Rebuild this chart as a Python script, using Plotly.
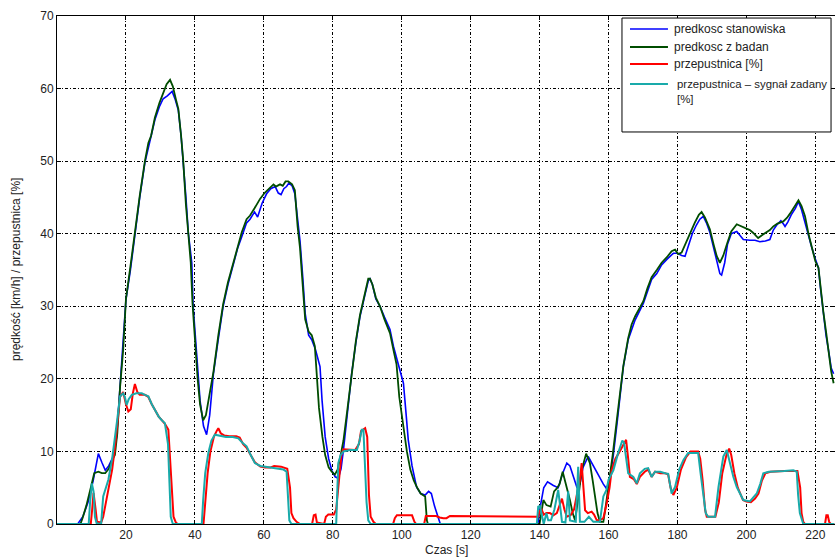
import plotly.graph_objects as go

# ---- data ----
t_stan = [0, 6, 7.5, 9, 10.5, 12, 13, 14, 15, 16.3, 17.3, 18.3, 19.2, 20, 21.3, 22.6, 24, 25.5, 27, 28.4, 29.7, 30.8, 32, 33.4, 34.3, 35.2, 36, 36.6, 37.4, 38.1, 39.1, 39.5, 40.5, 41.5, 42.5, 43.4, 44.3, 45.4, 46.8, 48.2, 49.6, 51.1, 52.4, 53.6, 55, 56, 57.3, 58.2, 59.5, 60.8, 62, 63.3, 64.2, 65, 65.8, 66.6, 67.3, 68.2, 69, 69.8, 70.5, 71.3, 72, 73, 73.9, 75, 76.3, 76.9, 77.8, 78.8, 79.7, 80.7, 81.6, 82.4, 83.1, 84.3, 85.5, 86.7, 87.9, 89.3, 90.3, 90.8, 91.5, 92.5, 93.7, 95, 96.6, 97.6, 99, 100.5, 101.3, 101.9, 103, 104.3, 105.5, 106.8, 107.8, 108.6, 109.5, 110.5, 111.2, 139.5, 140.2, 141.2, 142.3, 144, 145.4, 146.7, 147.9, 148.8, 149.8, 150.8, 151.7, 152.6, 154.1, 155.5, 157, 158.5, 159.4, 160.3, 161.4, 162.5, 163.3, 164.3, 165.7, 167.7, 170.1, 171.3, 172.5, 174, 175.4, 177, 178.8, 180, 181.2, 182.2, 183.2, 184.3, 185.5, 186.5, 187.5, 188.4, 189.4, 190.5, 191.4, 192.3, 192.8, 193.7, 194.5, 195.6, 197.2, 198.3, 199.1, 201, 202.5, 203.9, 205.5, 206.8, 207.8, 208.8, 210, 210.8, 211.2, 212, 213, 214.2, 215.1, 216, 217, 218, 218.9, 220, 220.9, 221.5, 222.3, 223.1, 223.8, 224.6, 225.3]
v_stan = [0, 0, 1, 3, 6, 9.7, 8.5, 7.4, 8, 9.3, 12, 18.9, 24, 30.9, 35, 40.1, 45, 49.8, 53, 55.7, 57.5, 58.6, 59, 59.6, 58.5, 57, 53.5, 50.2, 45, 40.1, 36, 30, 23.1, 17, 13.5, 12.3, 15, 20.8, 25.5, 30, 33, 35.5, 38, 39.6, 41.5, 42, 43, 42.3, 44.2, 45.5, 46.2, 46.5, 45.6, 45.4, 46.2, 46.5, 47, 46.6, 45.5, 42, 39, 34, 29, 26, 25.4, 24, 21.7, 17, 12, 9, 7.4, 6.5, 6.3, 7.6, 10.2, 15.5, 20.8, 25, 28.6, 31.5, 33.5, 33.8, 33, 31, 30, 28.5, 26.8, 24.5, 22.2, 19.4, 15, 11.6, 8, 5.1, 4.2, 4.0, 4.5, 4.2, 2.5, 1, 0, 0, 2.4, 5, 5.8, 5.3, 5, 7, 8.4, 8.0, 6.5, 5.1, 5.5, 7.8, 9.3, 8.0, 6.8, 5.5, 4.9, 6, 9.5, 14, 17.6, 21.7, 25.4, 28.1, 30.4, 32, 33.7, 34.5, 35.7, 36.5, 37.3, 37.3, 37, 36.9, 38.5, 40, 41.2, 42, 42.4, 41.5, 40.2, 38, 36, 34.5, 34.3, 36, 38.5, 40, 40.3, 39.6, 39.2, 39.1, 39.1, 38.9, 39, 39.2, 40.5, 41.2, 41.8, 41.3, 41, 41.6, 42.6, 43.5, 44.4, 43.3, 41.5, 39.5, 38.2, 36.5, 35.3, 32.5, 29.1, 26, 24, 21.5, 20.7]

t_bad = [0, 6.8, 7.4, 8.5, 9.8, 10.8, 12, 13, 14, 15, 16, 16.8, 17.5, 18.3, 19.2, 20, 21.3, 22.6, 24, 25.5, 26.5, 27.3, 28.4, 29.7, 30.8, 31.8, 32.8, 33.6, 34.5, 35.2, 36, 36.6, 37.4, 38.1, 38.8, 39.3, 40, 40.8, 41.5, 42.4, 43.2, 44.2, 45.4, 46.8, 48.2, 49.6, 51.1, 52.4, 53.6, 55, 56, 57.3, 58.9, 60.2, 61.8, 62.8, 63.5, 64.7, 65.5, 66.3, 67.1, 68.2, 69, 69.8, 70.5, 71.3, 72, 73, 73.9, 74.8, 75.3, 76, 77, 77.8, 78.8, 79.7, 80.6, 81.4, 82.3, 83.1, 84.3, 85.5, 86.7, 87.9, 89.3, 90.3, 90.8, 91.5, 92.5, 93.7, 95, 96.6, 97.6, 98.5, 99.3, 100.5, 101.5, 102.5, 103.5, 104.5, 105.5, 106.8, 107.3, 107.6, 140, 141.1, 142, 143.2, 144.2, 145, 145.8, 146.7, 147.7, 148.8, 149.6, 150.3, 151.2, 152.2, 153.5, 154.6, 155.4, 156.1, 156.8, 157.5, 158.5, 159.2, 160, 161.2, 162.4, 163.3, 164.3, 165.7, 166.7, 167.7, 170.1, 171.3, 172.5, 174, 175.4, 177, 178.3, 179.3, 180.2, 181.2, 182.5, 183.6, 185, 186.2, 187, 188, 189.4, 190.5, 191.4, 192.3, 193.3, 194.5, 195.6, 197.2, 198.6, 200, 201, 202, 203.4, 204.5, 205.8, 206.8, 207.8, 209, 210.7, 211.8, 212.7, 214, 215.1, 216, 217, 218, 218.9, 220, 220.9, 221.6, 222.3, 223.1, 223.8, 224.6, 225.3]
v_bad = [0, 0, 0.8, 2.5, 5, 7, 7.2, 7.0, 7.0, 7.6, 8.8, 9.5, 12.5, 18.9, 24, 31, 35.5, 40.3, 45.2, 50, 52.5, 53.5, 56, 58, 59.5, 60.6, 61.2, 60.3, 58.5, 57.2, 53.5, 50.2, 44, 40, 36, 30.5, 25, 20, 16.5, 14.3, 15, 17.5, 21, 26, 30.3, 33.3, 35.8, 38, 40.2, 42, 42.5, 43.5, 44.8, 45.6, 46.3, 46.8, 46.5, 46.8, 46.6, 47.2, 47.2, 46.8, 46, 41, 38, 33, 28.2, 26.5, 26, 24.5, 21, 16, 12, 9.5, 7.8, 7.2, 6.8, 7.5, 9.5, 11.5, 16, 21, 25.2, 28.8, 32, 33.8, 33.8, 33, 31.2, 30, 28.2, 26.3, 24, 22, 17.5, 13.5, 10, 7.5, 6, 5, 4.2, 3.8, 0.5, 0, 0, 3.3, 2.6, 2.4, 4.5, 4.9, 5.5, 7.2, 5.5, 3.3, 1.5, 0.5, 3.5, 7.4, 9.7, 8.4, 6, 3.8, 1.5, 0.3, 0.3, 2.5, 5.1, 9.5, 14.3, 17.8, 21.8, 25.6, 27.5, 28.6, 30.7, 32.5, 34, 35, 36, 36.8, 37.6, 37.8, 37.2, 37.4, 38.8, 40.2, 41.5, 42.6, 43, 42.2, 40.6, 38.5, 36.9, 36, 37, 38.8, 40.3, 41.3, 41, 40.7, 40.5, 40.1, 39.4, 39.8, 40.2, 40.5, 41, 41.4, 41.7, 42.2, 42.8, 43.8, 44.6, 43.8, 42.4, 40, 38.2, 36.2, 35.3, 32, 29.3, 26.5, 24, 21, 19.4]

t_przep = [0, 9.8, 10.2, 10.6, 11.2, 11.6, 12.8, 13.4, 14, 15, 16, 16.8, 17.5, 18.3, 19.2, 20, 20.7, 21.4, 22, 22.6, 23.3, 24, 25.5, 26.5, 27.5, 28.4, 29.5, 30.4, 31.3, 32.3, 32.8, 33.3, 33.8, 34.5, 35, 42.5, 43, 43.7, 44.5, 45.5, 46.3, 46.8, 47.5, 48.5, 50, 52, 53, 54, 55, 56, 57.4, 59, 60.3, 62, 63, 65, 66.8, 67.6, 68, 68.6, 69.5, 70.5, 74, 74.5, 75, 75.4, 77.5, 78, 78.7, 80.3, 81, 81.8, 82.5, 83.1, 85, 86.5, 87.6, 88.2, 89.4, 90, 90.5, 91, 91.8, 92.5, 97.5, 98, 98.6, 101, 103, 103.7, 104.2, 106.5, 107, 110, 111, 112.1, 113, 114, 139.6, 140, 140.6, 141.2, 142, 143, 144, 145, 146, 146.5, 147.2, 147.9, 149, 150, 151, 151.7, 152.2, 152.8, 153.2, 154, 155.1, 155.8, 156.6, 157.5, 158.5, 159.5, 160.3, 160.9, 162, 163, 164.3, 165.1, 165.7, 166.2, 167.3, 168.2, 169.1, 170.5, 171.5, 172.5, 173.5, 175, 176.4, 177.3, 178, 178.8, 179.8, 181, 182.5, 183.8, 186, 186.6, 187.3, 188, 188.5, 191, 192, 193, 194.2, 195, 195.6, 196.5, 197.5, 199, 200, 201.3, 202.5, 203.5, 204.5, 205.5, 207, 209, 211, 213, 214.8, 215.6, 216, 216.5, 217, 222.8, 223.2, 223.6, 224, 224.5, 225.5]
v_przep = [0, 0, 2, 4.3, 2, 0.3, 0.2, 1, 2.5, 5, 7.5, 10.5, 13.5, 17.5, 18.2, 16.5, 15.5, 15.8, 18, 19.3, 18.2, 17.8, 17.8, 17.5, 16.5, 15.7, 14.8, 14.3, 13.8, 13, 9, 3.3, 1, 0.2, 0, 0, 3, 7, 10, 12, 12.8, 13.2, 12.5, 12.2, 12.1, 12.1, 11.9, 11, 10.5, 9.6, 8.5, 7.9, 7.8, 7.8, 8, 7.9, 7.6, 5, 1.5, 0.8, 0.3, 0, 0, 1.2, 1.3, 0.2, 0, 1, 1.3, 1.3, 2, 6, 9.5, 10.3, 10.3, 10.2, 11, 12.8, 13.2, 12, 4, 1, 0.3, 0, 0, 0.8, 1.2, 1.2, 1.2, 0.3, 0, 0, 1.1, 1.1, 0.9, 0.8, 0.8, 1.1, 1.0, 1.8, 2.0, 1.3, 1.5, 1.5, 1.2, 1.5, 3.0, 3.5, 2.0, 1.0, 1.2, 2, 4.5, 6.1, 8.4, 5, 1.9, 1.5, 1.7, 1.3, 0.5, 0.5, 0.8, 2.9, 5, 7.4, 9, 9.8, 11, 11.6, 9, 6.5, 6.2, 5.5, 6.5, 7.2, 7.5, 6.5, 7.2, 7, 7, 6.8, 5, 4, 5, 7.5, 9.2, 10, 10, 9, 6, 2, 1, 1, 3, 7, 9.5, 10.4, 9.5, 7, 5, 3.3, 3.1, 3, 3.5, 4.2, 6, 7.0, 7.2, 7.3, 7.3, 7.3, 7.3, 5, 1.5, 0.3, 0, 0, 1.2, 1.2, 0.3, 0, 0]

t_zad = [0, 9.2, 9.6, 10.1, 10.6, 11, 11.5, 12.8, 13.4, 14.2, 14.9, 16, 16.8, 17.5, 18.3, 19.2, 19.7, 20.2, 20.8, 21.7, 23, 24.6, 25.5, 26.5, 27.5, 28.4, 29.5, 30.4, 31.3, 32.2, 32.6, 33, 33.6, 42, 42.4, 43, 43.9, 44.8, 45.8, 47, 49, 51, 52.6, 53.8, 55, 56.2, 57.4, 59, 60.3, 62, 64, 65.7, 66.6, 67, 67.4, 68, 81, 81.2, 81.6, 82.3, 83.1, 85, 87, 87.8, 88.4, 88.9, 89.4, 89.8, 90.3, 91, 139.2, 139.6, 140.1, 140.7, 141.2, 142, 142.5, 143.3, 144.3, 145.4, 146, 146.5, 147.5, 148.3, 148.8, 150.5, 151.2, 151.7, 153, 154.3, 155.6, 157.5, 158.5, 159.4, 160, 161.4, 162.8, 164, 164.5, 165.7, 167.2, 168.2, 169.1, 170.5, 171.5, 172.5, 173.5, 175, 176.4, 177.3, 178.3, 179.3, 180.5, 181.7, 183.1, 186, 186.7, 187.5, 188.2, 188.9, 190.9, 191.9, 193.3, 194.3, 195.2, 196.2, 197.2, 199.1, 201, 203, 204, 204.9, 206.5, 208.8, 211, 213.6, 214.6, 215, 215.5, 216.5, 225.5]
v_zad = [0, 0, 3, 5.6, 4.5, 1, 0.1, 0, 3.8, 5.2, 6.1, 9, 11.6, 14.5, 17.6, 18, 17.5, 16.4, 17.2, 17.8, 18, 18, 17.8, 17.6, 16.5, 15.7, 14.8, 14.3, 13.9, 11, 5, 1, 0, 0, 3.3, 7, 9.8, 11.5, 12.3, 12.2, 12, 12, 11.8, 11.2, 10.7, 9.5, 8.4, 8, 7.9, 7.8, 7.7, 7.5, 7.2, 3, 0.5, 0, 0, 3, 8.4, 9.5, 10, 10.2, 10.2, 11.5, 13, 13, 8.4, 3, 0.5, 0, 0, 2.4, 2.5, 1, 0, 1.5, 0.5, 0.5, 2, 4.7, 2, 0.3, 0.2, 4.5, 0.5, 0.3, 7.9, 0.3, 0.3, 1.0, 0.3, 0.3, 3.8, 4.7, 6.1, 7.4, 9.8, 11.5, 11.2, 7, 6.5, 5.6, 7, 7.6, 7.7, 6.5, 7.2, 7.2, 7, 6.9, 4.2, 5.1, 7.5, 8.8, 9.8, 9.8, 7, 4.2, 1.5, 1, 1, 5.1, 9.3, 10.2, 8.4, 6.5, 5.1, 3.3, 3.1, 4.2, 5.5, 7, 7.2, 7.2, 7.3, 7.4, 7.2, 4, 1.5, 0, 0]

series_names = ["predkosc stanowiska", "predkosc z badan", "przepustnica [%]",
                "przepustnica – sygnał zadany<br>[%]"]
series_colors = ["#0000FF", "#004D00", "#FF0000", "#19AAAA"]
series_widths = [1.6, 1.8, 2, 2]
x_ticks = [20, 40, 60, 80, 100, 120, 140, 160, 180, 200, 220]
y_ticks = [0, 10, 20, 30, 40, 50, 60, 70]
x_title = "Czas [s]"
y_title = "prędkość [km/h] / przepustnica [%]"

FONT = "Liberation Sans, Arial, sans-serif"
TXT = "#222"
GRID_DASH = "3px,2px,1px,2px"

fig = go.Figure()
series = [(t_stan, v_stan), (t_bad, v_bad), (t_przep, v_przep), (t_zad, v_zad)]
for (tx, vy), nm, col, w in zip(series, series_names, series_colors, series_widths):
    fig.add_trace(go.Scatter(x=tx, y=vy, mode="lines", name=nm,
                             line=dict(color=col, width=w), showlegend=False))

# legend drawn in paper coordinates (box, line samples, labels)
shapes = [dict(type="rect", xref="paper", yref="paper", x0=0.7262, x1=0.9949,
               y0=0.7717, y1=0.996, line=dict(color="black", width=1),
               fillcolor="white", layer="above")]
row_y = [0.9744, 0.939, 0.9055, 0.8661]
annotations = []
for i in range(4):
    shapes.append(dict(type="line", xref="paper", yref="paper", x0=0.7365, x1=0.7853,
                       y0=row_y[i], y1=row_y[i],
                       line=dict(color=series_colors[i], width=series_widths[i]),
                       layer="above"))
    annotations.append(dict(text=series_names[i], xref="paper", yref="paper",
                            x=0.7905 if i < 3 else 0.7945, y=row_y[i],
                            xanchor="left", yanchor="middle" if i < 3 else "top",
                            yshift=0 if i < 3 else 8, align="left",
                            showarrow=False,
                            font=dict(family=FONT, size=12 if i < 3 else 11.4, color=TXT)))

annotations += [
    dict(text=x_title, xref="paper", yref="paper", x=0.5, y=0, yshift=-17,
         xanchor="center", yanchor="top", showarrow=False,
         font=dict(family=FONT, size=12, color=TXT)),
    dict(text=y_title, xref="paper", yref="paper", x=0, y=0.5, xshift=-32,
         xanchor="right", yanchor="middle", textangle=-90, showarrow=False,
         font=dict(family=FONT, size=12, color=TXT)),
]

fig.update_layout(
    width=835, height=558,
    margin=dict(l=57, r=0, t=16, b=34, autoexpand=False),
    paper_bgcolor="white", plot_bgcolor="white",
    font=dict(family=FONT, size=12, color=TXT),
    showlegend=False,
    shapes=shapes,
    annotations=annotations,
)
fig.update_xaxes(range=[0, 225.7], tickvals=x_ticks, ticktext=[str(v) for v in x_ticks],
                 showgrid=True, gridcolor="black", griddash=GRID_DASH, gridwidth=1,
                 showline=True, linecolor="black", linewidth=1, mirror="ticks",
                 ticks="inside", ticklen=4, tickcolor="black",
                 zeroline=False, automargin=False)
fig.update_yaxes(range=[0, 70], tickvals=y_ticks, ticktext=[str(v) for v in y_ticks],
                 showgrid=True, gridcolor="black", griddash=GRID_DASH, gridwidth=1,
                 showline=True, linecolor="black", linewidth=1, mirror="ticks",
                 ticks="inside", ticklen=4, tickcolor="black",
                 zeroline=False, automargin=False)

# remove the default page margin so the figure fills the window exactly
page_fix = ("document.documentElement.style.overflow='hidden';"
            "document.body.style.margin='0';"
            "document.body.style.overflow='hidden';")
fig.write_html("out.html", post_script=page_fix,
               config={"displayModeBar": False, "staticPlot": True})
